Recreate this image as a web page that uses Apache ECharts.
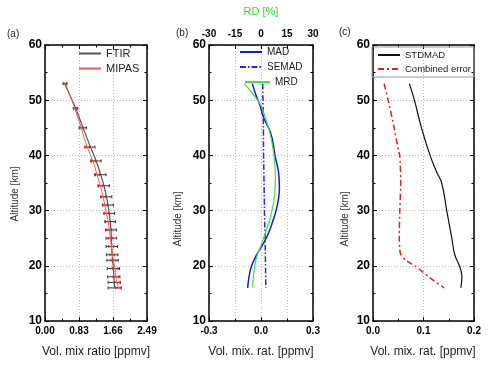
<!DOCTYPE html>
<html><head><meta charset="utf-8">
<script src="https://cdn.jsdelivr.net/npm/echarts@6/dist/echarts.min.js"></script>
<style>html,body{margin:0;padding:0;background:#fff}#c{width:488px;height:366px}</style>
</head><body><div id="c"></div>
<script>
// Panel (a)
var altA = [53, 48.5, 45, 41.5, 39, 36.5, 34.5, 32.5, 31, 29.5, 28, 26.5, 25, 23.5, 22, 21, 19.5, 18, 17, 16];
var ftir = [0.48, 0.75, 0.93, 1.11, 1.25, 1.36, 1.44, 1.50, 1.54, 1.57, 1.59, 1.61, 1.62, 1.63, 1.64, 1.65, 1.67, 1.68, 1.69, 1.70];
var mipas = [0.50, 0.73, 0.88, 1.03, 1.17, 1.27, 1.35, 1.42, 1.46, 1.50, 1.54, 1.57, 1.60, 1.62, 1.64, 1.67, 1.71, 1.73, 1.76, 1.79];
var ftirErr = [0.04, 0.05, 0.08, 0.11, 0.12, 0.13, 0.13, 0.13, 0.13, 0.13, 0.13, 0.13, 0.13, 0.14, 0.14, 0.14, 0.15, 0.15, 0.15, 0.16];
var mipasErr = [0.04, 0.04, 0.05, 0.06, 0.06, 0.06, 0.06, 0.06, 0.06, 0.06, 0.06, 0.06, 0.06, 0.06, 0.06, 0.06, 0.07, 0.07, 0.07, 0.07];
var ticksA = ['0.00', '0.83', '1.66', '2.49'];
// Panel (b)
var altB = [53, 51, 49, 47, 44, 40, 36, 34, 32, 30, 28, 26, 24, 22, 20, 18, 16];
var mad = [-0.05, -0.03, -0.005, 0.013, 0.056, 0.081, 0.104, 0.106, 0.10, 0.087, 0.067, 0.044, 0.013, -0.025, -0.054, -0.069, -0.077];
var semad = [0.010, 0.011, 0.012, 0.013, 0.014, 0.015, 0.017, 0.018, 0.019, 0.020, 0.021, 0.023, 0.024, 0.025, 0.026, 0.027, 0.028];
var mrd = [-9.6, -4.4, 0.0, 2.3, 5.2, 7.5, 8.3, 8.1, 7.5, 6.3, 4.8, 2.5, 0.4, -2.1, -3.6, -4.4, -4.8];
// Panel (c)
var altC = [53, 50, 45, 40, 37, 35, 30, 25, 22, 20, 18, 16];
var stdmad = [0.072, 0.082, 0.096, 0.113, 0.126, 0.136, 0.146, 0.156, 0.162, 0.171, 0.176, 0.174];
var altC2 = [53, 50, 45, 41, 40, 35, 30, 25, 23, 22, 21, 20, 19, 18, 17, 16];
var combErr = [0.022, 0.030, 0.042, 0.050, 0.053, 0.055, 0.053, 0.052, 0.053, 0.055, 0.065, 0.083, 0.097, 0.110, 0.125, 0.141];

function pairs(xs, ys) { return xs.map(function (x, i) { return [x, ys[i]]; }); }

var FONT = 'Liberation Sans, Arial, sans-serif';
var chart = echarts.init(document.getElementById('c'), null, {renderer: 'canvas'});

var axLine = {show: true, onZero: false, lineStyle: {color: '#000', width: 1.5}};
var tick = {show: true, inside: true, length: 4, lineStyle: {color: '#000', width: 1}};
var minor = {show: true, splitNumber: 2, length: 2.5, lineStyle: {color: '#000', width: 1}};
var dotted = {show: true, lineStyle: {color: '#bbb', type: [1, 2], width: 1}};
var grids = [
  {left: 45, top: 45, width: 102, height: 276},
  {left: 209, top: 45, width: 104, height: 276},
  {left: 373, top: 45, width: 101, height: 276}
];
var xLabel = {color: '#000', fontWeight: 'bold', fontSize: 10, fontFamily: FONT, margin: 5};
var yLabel = {color: '#000', fontWeight: 'bold', fontSize: 12, fontFamily: FONT, margin: 3};

var xAxes = [], yAxes = [];
var xr = [[0, 2.49, 0.83, 2], [-0.3, 0.3, 0.3, 1], [0, 0.2, 0.1, 1]];
for (var g = 0; g < 3; g++) {
  (function (g) {
    xAxes.push({type: 'value', gridIndex: g, position: 'bottom', min: xr[g][0], max: xr[g][1], interval: xr[g][2],
      axisLine: axLine, axisTick: tick, minorTick: minor,
      splitLine: g === 1 ? {show: false} : dotted,
      axisLabel: Object.assign({formatter: function (v) { return g === 0 ? ticksA[Math.round(v / 0.83)] : v.toFixed(1); }}, xLabel)});
    yAxes.push({type: 'value', gridIndex: g, position: 'left', min: 10, max: 60, interval: 10,
      axisLine: axLine, axisTick: tick, minorTick: minor, splitLine: dotted, axisLabel: yLabel});
    yAxes.push({type: 'value', gridIndex: g, position: 'right', min: 10, max: 60, interval: 10,
      axisLine: axLine, axisTick: tick, minorTick: minor, splitLine: {show: false}, axisLabel: {show: false}});
  })(g);
}
// top axes
xAxes.push({type: 'value', gridIndex: 0, position: 'top', min: 0, max: 2.49, interval: 0.83,
  axisLine: axLine, axisTick: tick, minorTick: minor, splitLine: {show: false}, axisLabel: {show: false}});
xAxes.push({type: 'value', gridIndex: 1, position: 'top', min: -30, max: 30, interval: 15,
  axisLine: axLine, axisTick: tick, minorTick: {show: false}, splitLine: dotted,
  axisLabel: {color: '#000', fontWeight: 'bold', fontSize: 10, fontFamily: FONT, margin: 6},
  name: 'RD [%]', nameLocation: 'middle', nameGap: 28,
  nameTextStyle: {color: '#33dd33', fontSize: 11, fontFamily: FONT}});
xAxes.push({type: 'value', gridIndex: 2, position: 'top', min: 0, max: 0.2, interval: 0.1,
  axisLine: axLine, axisTick: tick, minorTick: minor, splitLine: {show: false}, axisLabel: {show: false}});

function errBars(xs, ys, errs, color) {
  return {
    type: 'custom', xAxisIndex: 0, yAxisIndex: 0, z: 3,
    data: xs.map(function (x, i) { return [x, ys[i], errs[i]]; }),
    renderItem: function (params, api) {
      var x = api.value(0), y = api.value(1), e = api.value(2);
      var p1 = api.coord([x - e, y]), p2 = api.coord([x + e, y]);
      var style = {stroke: color, lineWidth: 1};
      return {type: 'group', children: [
        {type: 'line', shape: {x1: p1[0], y1: p1[1], x2: p2[0], y2: p2[1]}, style: style},
        {type: 'line', shape: {x1: p1[0], y1: p1[1] - 1.5, x2: p1[0], y2: p1[1] + 1.5}, style: style},
        {type: 'line', shape: {x1: p2[0], y1: p2[1] - 1.5, x2: p2[0], y2: p2[1] + 1.5}, style: style}
      ]};
    }
  };
}

var series = [
  {name: 'FTIR', type: 'line', xAxisIndex: 0, yAxisIndex: 0, symbol: 'none', smooth: 0.3,
    data: pairs(ftir, altA), lineStyle: {color: '#555', width: 1.2}, itemStyle: {color: '#555'}, z: 4},
  {name: 'MIPAS', type: 'line', xAxisIndex: 0, yAxisIndex: 0, symbol: 'none', smooth: 0.3,
    data: pairs(mipas, altA), lineStyle: {color: '#f05a5a', width: 1}, itemStyle: {color: '#f05a5a'}, z: 4},
  errBars(ftir, altA, ftirErr, '#333'),
  errBars(mipas, altA, mipasErr, '#e82020'),
  {name: 'MAD', type: 'line', xAxisIndex: 1, yAxisIndex: 2, symbol: 'none', smooth: true,
    data: pairs(mad, altB), lineStyle: {color: '#1a1ad0', width: 1.5}, itemStyle: {color: '#1a1ad0'}},
  {name: 'SEMAD', type: 'line', xAxisIndex: 1, yAxisIndex: 2, symbol: 'none', smooth: true,
    data: pairs(semad, altB), lineStyle: {color: '#2a2ae0', width: 1.5, type: [6, 2, 1.5, 2]}, itemStyle: {color: '#2a2ae0'}},
  {name: 'MRD', type: 'line', xAxisIndex: 4, yAxisIndex: 2, symbol: 'none', smooth: true,
    data: pairs(mrd, altB), lineStyle: {color: '#44dd44', width: 1.2}, itemStyle: {color: '#44dd44'}},
  {name: 'STDMAD', type: 'line', xAxisIndex: 2, yAxisIndex: 4, symbol: 'none', smooth: true,
    data: pairs(stdmad, altC), lineStyle: {color: '#111', width: 1.2}, itemStyle: {color: '#111'}},
  {name: 'Combined error', type: 'line', xAxisIndex: 2, yAxisIndex: 4, symbol: 'none', smooth: 0.2,
    data: pairs(combErr, altC2), lineStyle: {color: '#dd2222', width: 1.5, type: [6, 3, 2, 3]}, itemStyle: {color: '#dd2222'}}
];

var legTxt = function (s) { return {color: '#222', fontSize: s, fontFamily: FONT}; };
var hideSym = {opacity: 0};
var legends = [
  {data: ['FTIR', 'MIPAS'], left: 78, top: 48, orient: 'vertical', itemWidth: 22, itemHeight: 10, itemGap: 4, textStyle: legTxt(11), padding: 0, itemStyle: hideSym},
  {data: ['MAD', 'SEMAD'], left: 239, top: 47, orient: 'vertical', itemWidth: 22, itemHeight: 10, itemGap: 5, textStyle: legTxt(10), padding: 0, itemStyle: hideSym},
  {data: ['MRD'], left: 244, top: 77, orient: 'vertical', itemWidth: 25, itemHeight: 10, itemGap: 5, textStyle: legTxt(10), padding: 0, itemStyle: hideSym},
  {data: ['STDMAD', 'Combined error'], left: 372, top: 47, orient: 'vertical', itemWidth: 22, itemHeight: 10, itemGap: 4,
    textStyle: legTxt(9.5), borderColor: '#999', borderWidth: 1, padding: [3, 3, 3, 5], itemStyle: hideSym}
];

var txt = function (x, y, s, opt) {
  return Object.assign({type: 'text', x: x, y: y, style: {text: s, fill: '#222', font: '10px ' + FONT, textAlign: 'left', textVerticalAlign: 'middle'}}, opt || {});
};
var vtxt = function (x, y, s) {
  return {type: 'text', x: x, y: y, rotation: Math.PI / 2,
    style: {text: s, fill: '#333', font: '10px ' + FONT, textAlign: 'center', textVerticalAlign: 'middle'}};
};
var htxt = function (x, y, s) {
  return {type: 'text', x: x, y: y, style: {text: s, fill: '#222', font: '12px ' + FONT, textAlign: 'center', textVerticalAlign: 'middle'}};
};

chart.setOption({
  animation: false,
  grid: grids,
  xAxis: xAxes,
  yAxis: yAxes,
  legend: legends,
  series: series,
  graphic: [
    txt(7, 34, '(a)'), txt(176, 33, '(b)'), txt(339, 32, '(c)'),
    vtxt(15, 194, 'Altitude [km]'), vtxt(178, 219, 'Altitude [km]'), vtxt(345, 219, 'Altitude [km]'),
    htxt(96, 352, 'Vol. mix ratio [ppmv]'), htxt(261, 352, 'Vol. mix. rat. [ppmv]'), htxt(423, 352, 'Vol. mix. rat. [ppmv]')
  ]
});
</script></body></html>
